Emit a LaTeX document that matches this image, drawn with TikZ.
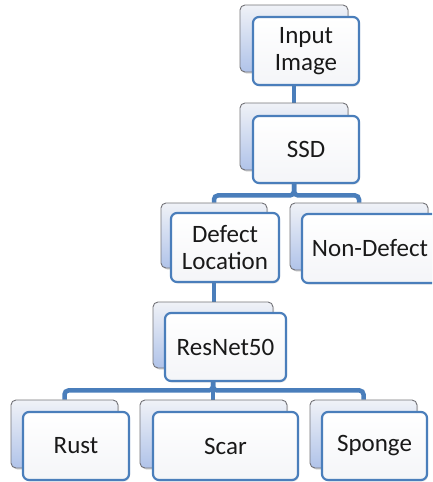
\documentclass[tikz,border=0pt]{standalone}
\usepackage{fontspec}
\setmainfont{Carlito}
\usetikzlibrary{shadows}
\definecolor{linkblue}{RGB}{74,126,187}
\definecolor{backtop}{RGB}{240,242,247}
\definecolor{backbot}{RGB}{176,195,233}
\definecolor{backedge}{RGB}{115,115,120}
\definecolor{frontbot}{RGB}{244,245,248}
\pgfdeclarelayer{links}
\pgfsetlayers{links,main}
\tikzset{
  backbox/.style={draw=backedge, line width=0.9pt, rounded corners=5pt,
    top color=backtop, bottom color=backbot,
    drop shadow={shadow xshift=1.2pt, shadow yshift=-1.5pt, opacity=0.3}},
  frontbox/.style={draw=linkblue, line width=2.2pt, rounded corners=6pt,
    top color=white, bottom color=frontbot, inner sep=0pt, align=center,
    font=\fontsize{25}{27}\selectfont, text=black!90,
    drop shadow={shadow xshift=1pt, shadow yshift=-1.5pt, opacity=0.2}},
  conn/.style={draw=linkblue, line width=4.5pt, rounded corners=4pt},
}
\begin{document}
\begin{tikzpicture}[x=1pt, y=-1pt]
  \useasboundingbox (0,0) rectangle (432,482);
  \clip (0,0) rectangle (432,482);

  % Input Image
  \node[backbox, minimum width=108pt, minimum height=67pt] (inB) at (294,38.5) {};
  \node[frontbox, minimum width=106pt, minimum height=68pt] (in) at (306,51) {Input\\Image};
  % SSD
  \node[backbox, minimum width=108pt, minimum height=67pt] (ssdB) at (294,136.5) {};
  \node[frontbox, minimum width=106pt, minimum height=67pt] (ssd) at (306,149.5) {SSD};
  % Defect Location
  \node[backbox, minimum width=106pt, minimum height=65pt] (defB) at (214,235.5) {};
  \node[frontbox, minimum width=108pt, minimum height=69pt] (def) at (225,247.5) {Defect\\Location};
  % Non-Defect
  \node[backbox, minimum width=138pt, minimum height=67pt] (ndB) at (359,236.5) {};
  \node[frontbox, minimum width=136pt, minimum height=69pt] (nd) at (370,248.5) {Non-Defect};
  % ResNet50
  \node[backbox, minimum width=120pt, minimum height=66pt] (resB) at (213,335) {};
  \node[frontbox, minimum width=121pt, minimum height=68pt] (res) at (225.5,347) {ResNet50};
  % Classes
  \node[backbox, minimum width=107pt, minimum height=68pt] (rustB) at (64.5,434) {};
  \node[frontbox, minimum width=106pt, minimum height=68pt] (rust) at (76,446) {Rust};
  \node[backbox, minimum width=147pt, minimum height=68pt] (scarB) at (213.5,434) {};
  \node[frontbox, minimum width=145pt, minimum height=68pt] (scar) at (225.5,446) {Scar};
  \node[backbox, minimum width=107pt, minimum height=68pt] (spB) at (363.5,434) {};
  \node[frontbox, minimum width=105pt, minimum height=68pt] (sp) at (374.5,446) {Sponge};

  % connectors behind the boxes
  \begin{pgfonlayer}{links}
    \draw[conn] (inB.south) -- (ssdB.north);
    \draw[conn] (ssdB.south) -- ++(0,25) -| (defB.north);
    \draw[conn] (ssdB.south) -- ++(0,25) -| (ndB.north);
    \draw[conn] (defB.south) -- (defB.south |- resB.north);
    \draw[conn] (resB.south) -- ++(0,22) -| (rustB.north);
    \draw[conn] (resB.south) -- ++(0,22) -| (spB.north);
    \draw[conn] (resB.south) -- (resB.south |- scarB.north);
  \end{pgfonlayer}
\end{tikzpicture}
\end{document}
